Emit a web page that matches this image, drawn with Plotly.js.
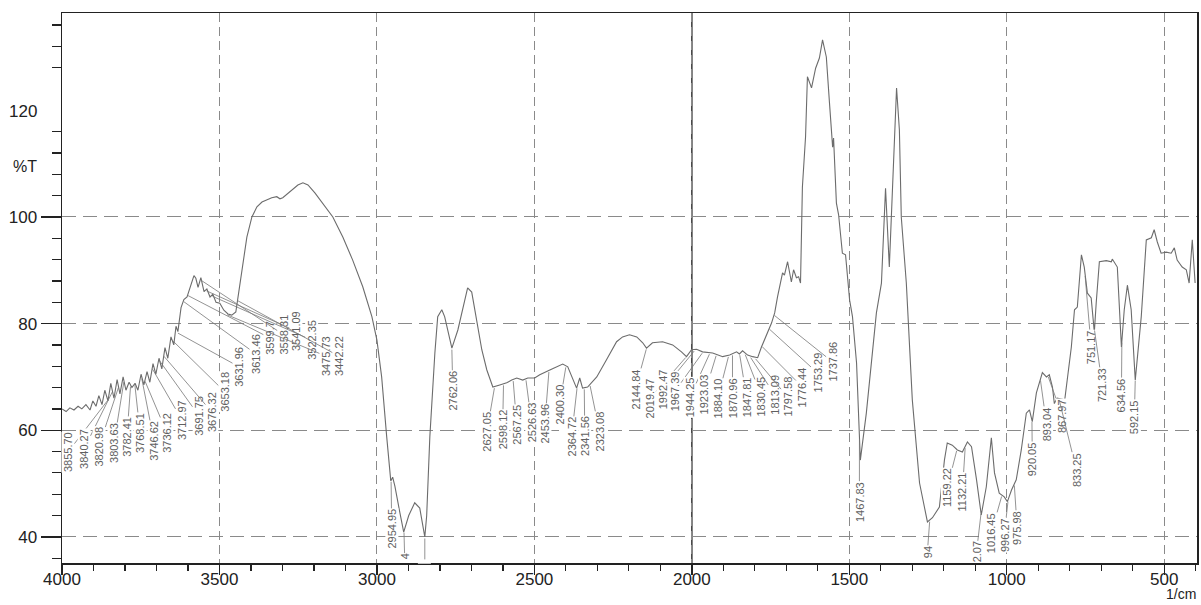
<!DOCTYPE html>
<html><head><meta charset="utf-8">
<script src="https://cdn.plot.ly/plotly-3.0.1.min.js"></script>
<style>html,body{margin:0;padding:0;background:#fff}#chart{width:1201px;height:605px}</style>
</head><body><div id="chart"></div>
<script>
// ---- Spectrum (wavenumber in 1/cm, %T) ----
const wavenumber = [4000,3987,3975,3962,3949,3937,3924,3911,3902,3892,3883,3873,3864,3854,3845,3835,3825,3816,3806,3797,3787,3778,3768,3759,3749,3740,3730,3721,3711,3702,3692,3683,3673,3664,3654,3645,3638,3632,3622,3613,3603,3594,3581,3575,3568,3559,3549,3540,3530,3521,3511,3499,3486,3473,3461,3448,3435,3413,3397,3381,3365,3350,3334,3318,3308,3299,3277,3251,3235,3219,3197,3172,3140,3108,3077,3045,3016,3000,2985,2969,2956,2950,2943,2927,2915,2899,2880,2864,2854,2848,2842,2832,2816,2807,2794,2785,2762,2743,2721,2712,2699,2683,2667,2651,2632,2610,2588,2572,2556,2537,2521,2499,2483,2451,2429,2410,2394,2378,2366,2356,2347,2331,2302,2271,2239,2220,2198,2175,2156,2144,2125,2093,2061,2033,2017,2001,1985,1966,1934,1902,1880,1858,1849,1839,1823,1807,1791,1779,1763,1747,1737,1728,1712,1706,1696,1684,1677,1668,1661,1655,1649,1639,1633,1620,1607,1595,1585,1573,1563,1553,1550,1541,1534,1522,1512,1499,1490,1477,1465,1446,1414,1398,1385,1373,1350,1341,1335,1319,1300,1277,1252,1236,1214,1198,1189,1173,1157,1141,1125,1112,1096,1081,1065,1049,1039,1024,1008,998,985,970,954,938,928,919,906,897,887,874,865,855,849,840,816,795,785,776,763,754,744,732,722,716,706,684,668,665,649,636,627,617,605,592,573,557,541,532,522,510,494,478,468,459,443,430,421,411,402];
const transmittance = [64.0,63.5,64.2,63.8,64.5,64.0,64.8,63.8,65.5,64.5,66.5,64.8,67.5,65.5,68.8,66.0,69.5,66.8,70.0,67.5,69.0,68.0,68.8,67.5,70.5,68.5,71.0,69.0,72.5,70.5,73.5,71.5,75.5,73.5,77.5,76.0,79.5,78.5,83.0,84.5,85.0,86.5,89.0,88.5,86.8,88.6,86.0,86.5,85.0,85.5,84.0,83.8,82.5,81.8,81.6,82.2,87.6,96.2,100.0,101.9,102.8,103.2,103.6,103.8,103.4,103.6,104.7,106.0,106.4,106.0,104.5,102.6,100.0,96.2,91.9,86.9,81.3,76.9,70.0,58.8,50.5,51.2,49.5,44.5,40.9,44.0,46.4,45.4,42.0,40.0,44.0,58.8,74.5,81.3,82.6,81.3,75.4,78.8,84.4,86.7,85.9,80.7,75.1,71.3,68.1,68.5,68.9,69.4,69.8,69.4,69.8,69.8,70.4,71.3,71.9,72.4,71.9,69.4,67.9,69.8,67.9,68.1,70.0,73.2,76.6,77.5,77.9,77.5,76.4,75.4,76.4,76.6,76.0,74.7,73.8,75.1,75.2,74.7,74.5,73.8,74.1,74.7,74.3,74.9,74.1,73.8,73.6,75.6,77.9,80.1,82.0,85.0,89.5,89.1,91.6,87.8,90.1,88.6,88.8,87.6,105.6,115.0,126.3,124.2,127.9,129.8,133.2,130.0,121.4,113.1,114.8,102.6,100.4,93.2,92.9,84.4,81.3,72.6,54.4,63.2,82.0,87.6,105.4,90.6,124.2,116.3,100.0,87.6,65.7,50.1,42.8,43.6,45.6,54.4,57.6,57.2,56.3,55.9,57.8,56.9,50.7,44.1,49.4,58.6,52.0,48.2,47.5,46.6,48.8,50.7,56.3,63.2,63.8,61.6,67.0,68.9,70.8,70.0,70.4,68.1,65.0,66.0,65.7,75.6,82.6,83.1,92.9,90.6,85.7,84.8,78.4,83.9,91.6,91.8,91.6,92.1,90.6,75.6,82.6,87.2,82.6,69.4,81.3,95.7,96.1,97.6,95.3,93.2,93.4,93.2,94.2,91.9,90.6,90.1,87.6,95.7,87.6];

// ---- Peak picks ----
const peakWavenumbers = [3855.70,3840.27,3820.98,3803.63,3782.41,3768.51,3746.62,3736.12,3712.97,3691.75,3676.32,3653.18,3631.96,3613.46,3599.7,3558.31,3541.09,3522.35,3475.73,3442.22,2954.95,2914,2848,2762.06,2627.05,2598.12,2567.25,2526.63,2453.96,2400.30,2364.72,2341.56,2323.08,2144.84,2019.47,1992.47,1967.39,1944.25,1923.03,1884.10,1870.96,1847.81,1830.45,1813.09,1797.58,1776.44,1753.29,1737.86,1467.83,1244.94,1159.22,1132.21,1082.07,1016.45,996.27,975.98,920.05,893.04,867.97,833.25,751.17,721.33,634.56,592.15];
const peakLabels = ["3855.70","3840.27","3820.98","3803.63","3782.41","3768.51","3746.62","3736.12","3712.97","3691.75","3676.32","3653.18","3631.96","3613.46","3599.7","3558.31","3541.09","3522.35","3475.73","3442.22","2954.95","4"," ","2762.06","2627.05","2598.12","2567.25","2526.63","2453.96","2400.30","2364.72","2341.56","2323.08","2144.84","2019.47","1992.47","1967.39","1944.25","1923.03","1884.10","1870.96","1847.81","1830.45","1813.09","1797.58","1776.44","1753.29","1737.86","1467.83","94","1159.22","1132.21","2.07","1016.45","996.27","975.98","920.05","893.04","867.97","833.25","751.17","721.33","634.56","592.15"];

// ---- Label placement (layout only) ----
const labelPosX = [3981,3930,3883,3835,3794,3752,3708,3667,3619,3565,3524,3483,3438,3384,3340,3296,3257,3207,3162,3121,2953,2912,2848,2759,2651,2601,2556,2509,2467,2420,2382,2340,2293,2179,2134,2093,2055,2007,1960,1918,1871,1826,1779,1737,1696,1649,1601,1553,1468,1252,1189,1141,1096,1049,1008,967,919,874,824,779,732,697,636,595];
const labelPosY = [55.9,56.5,56.9,57.6,58.75,59.5,58.0,59.5,61.9,62.7,63.4,67.2,71.9,74.3,77.3,77.9,78.6,76.9,73.9,73.9,41.5,36.3,35.4,67.4,59.7,60.1,61.0,61.4,61.2,64.75,58.75,58.9,59.7,67.75,65.9,67.6,67.2,66.1,66.8,65.9,66.1,66.1,66.4,66.6,66.25,68.1,70.75,72.8,46.6,37.2,49.2,48.4,37.2,40.75,40.4,41.7,54.6,61.2,62.7,52.6,75.6,68.5,66.6,62.5];

const xMajorTicks = [4000,3500,3000,2500,2000,1500,1000,500];
const yMajorTicks = [40,60,80,100];
const yMinorTicks = [36,44,48,52,56,64,68,72,76,84,88,92,96,104,108,112,116,128,132,136];

function curveAt(w){
  for(let i=0;i<wavenumber.length-1;i++){
    const a=wavenumber[i], b=wavenumber[i+1];
    if(w<=a && w>=b){ const t=(a-w)/(a-b); return transmittance[i]+t*(transmittance[i+1]-transmittance[i]); }
  }
  return transmittance[transmittance.length-1];
}

const FONT = 'Liberation Sans, Arial, sans-serif';

const peakAnn = peakWavenumbers.map((w,i)=>({
  x:w, y:curveAt(w)-0.3, xref:'x', yref:'y',
  ax:labelPosX[i], ay:labelPosY[i], axref:'x', ayref:'y',
  text:peakLabels[i], textangle:-90, showarrow:true, arrowhead:0,
  arrowwidth:0.8, arrowcolor:'#777', standoff:0, startstandoff:0,
  font:{family:FONT, size:11, color:'#606060'}, bgcolor:'rgba(255,255,255,1)', borderpad:0
}));

const textAnn = [
  {text:'120', xref:'paper', yref:'y', x:-0.0203, y:119.7, xanchor:'right', yanchor:'middle', showarrow:false, font:{family:FONT,size:17,color:'#222'}},
  {text:'%T', xref:'paper', yref:'y', x:-0.0326, y:109.4, xanchor:'center', yanchor:'middle', showarrow:false, font:{family:FONT,size:16,color:'#222'}},
  {text:'1/cm', xref:'paper', yref:'paper', x:1.0, y:-0.0735, xanchor:'right', yanchor:'bottom', borderpad:0, showarrow:false, font:{family:FONT,size:14,color:'#222'}}
];

const trace = {
  x: wavenumber, y: transmittance, type:'scatter', mode:'lines',
  line:{color:'#6c6c6c', width:1.1}, hoverinfo:'skip'
};

const layout = {
  width:1201, height:605,
  margin:{l:62, r:4, t:13, b:42},
  paper_bgcolor:'#ffffff', plot_bgcolor:'#ffffff', showlegend:false,
  font:{family:FONT, size:17, color:'#222'},
  xaxis:{
    range:[4000,396], tickmode:'array', tickvals:xMajorTicks,
    ticks:'outside', ticklen:10, tickwidth:1.3, tickcolor:'#222',
    ticklabelstandoff:-10,
    showline:true, mirror:true, linecolor:'#222', linewidth:1.5,
    showgrid:true, gridcolor:'#8a8a8a', gridwidth:1, griddash:'9px,5px', zeroline:false,
    tickfont:{family:FONT, size:17, color:'#222'},
    minor:{tickmode:'linear', tick0:0, dtick:100, ticks:'outside', ticklen:6, tickwidth:1.2, tickcolor:'#222', showgrid:false}
  },
  yaxis:{
    range:[35.1,138.25], tickmode:'array', tickvals:yMajorTicks,
    ticks:'outside', ticklen:20, tickwidth:1.3, tickcolor:'#222',
    showline:true, mirror:true, linecolor:'#222', linewidth:1.5,
    showgrid:true, gridcolor:'#8a8a8a', gridwidth:1, griddash:'14px,7px', zeroline:false,
    tickfont:{family:FONT, size:17, color:'#222'},
    minor:{tickmode:'array', tickvals:yMinorTicks, ticks:'outside', ticklen:9, tickwidth:1.2, tickcolor:'#222', showgrid:false}
  },
  shapes:[
    {type:'line', xref:'x', yref:'paper', x0:2000, x1:2000, y0:0, y1:1, layer:'below', line:{color:'#333', width:1.5}}
  ],
  annotations: peakAnn.concat(textAnn)
};

Plotly.newPlot('chart', [trace], layout, {staticPlot:true, displayModeBar:false});
</script>
</body></html>
